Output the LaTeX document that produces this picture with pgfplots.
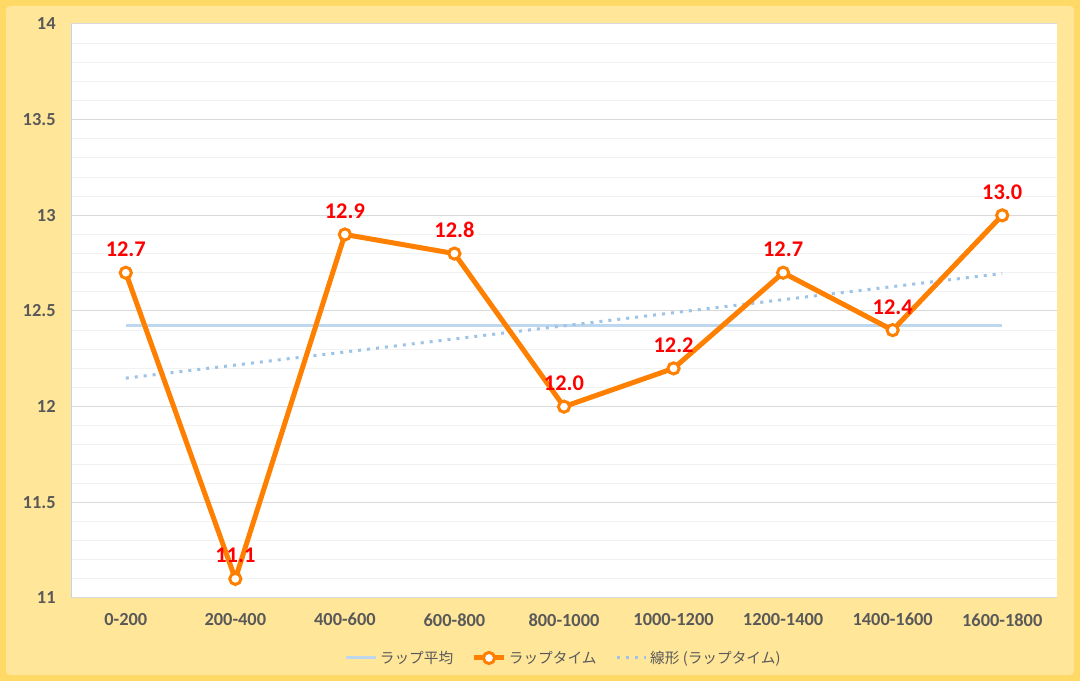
\documentclass[border=0pt]{standalone}
\usepackage{fontspec}
\setmainfont{Carlito}
\newfontfamily\jp{Noto Sans CJK JP}
\usepackage{pgfplots}
\pgfplotsset{compat=1.18}

\definecolor{frame}{HTML}{FFD966}
\definecolor{bg}{HTML}{FFE699}
\definecolor{lap}{HTML}{FF8000}
\definecolor{avg}{HTML}{BDD7EE}
\definecolor{trend}{HTML}{9DC3E6}
\definecolor{txt}{HTML}{595959}

\begin{document}
\begin{tikzpicture}[x=0.75pt,y=0.75pt]
\useasboundingbox (0,0) rectangle (1080,681);
\fill[frame] (0,0) rectangle (1080,681);
\fill[bg, rounded corners=3] (6,6) rectangle (1074,675);
\begin{axis}[
    scale only axis,
    anchor=south west,
    at={(53.25pt,62.25pt)},
    width=739.5pt, height=430.5pt,
    xmin=-0.5, xmax=8.5,
    ymin=11, ymax=14,
    xtick={0,...,8},
    xticklabels={0-200,200-400,400-600,600-800,800-1000,1000-1200,1200-1400,1400-1600,1600-1800},
    ytick={11,11.5,12,12.5,13,13.5,14},
    yticklabels={11,11.5,12,12.5,13,13.5,14},
    minor y tick num=4,
    ymajorgrids, yminorgrids,
    major grid style={draw=black!15, line width=0.75pt},
    minor grid style={draw=black!5, line width=0.75pt},
    major tick length=0pt, minor tick length=0pt,
    axis lines*=left,
    axis line style={-},
    x axis line style={draw=black!15, line width=0.75pt},
    y axis line style={draw=avg, line width=0.75pt},
    axis background/.style={fill=white},
    tick label style={font=\bfseries\fontsize{13.8}{13.8}\selectfont, text=txt},
    yticklabel style={xshift=-8pt},
    xticklabel style={yshift=-8pt},
    legend style={draw=none, fill=none, at={(0.5,-0.1045)}, anchor=center,
        font=\jp\fontsize{11}{11}\selectfont, text=txt,
        /tikz/every even column/.append style={column sep=12pt}},
    legend columns=3,
    legend image code/.code={\draw[mark repeat=2,mark phase=2,#1] plot coordinates {(0pt,0pt) (11pt,0pt) (22pt,0pt)};},
]
% ラップ平均
\addplot[avg, line width=2.25pt] coordinates {(0,12.4222) (8,12.4222)};
\addlegendentry{ラップ平均}
% 線形近似
\addplot[trend, line width=2.25pt, dash pattern=on 2.25pt off 4.5pt, forget plot]
    coordinates {(0,12.149) (8,12.696)};
% ラップタイム
\addplot[lap, line width=3.75pt, mark=*, mark size=4.2pt,
    mark options={fill=white, draw=lap, line width=2.25pt},
    nodes near coords={\pgfmathprintnumber[assume math mode=true,fixed,fixed zerofill,precision=1]{\pgfplotspointmeta}},
    every node near coord/.append style={anchor=center, yshift=17.5pt,
        text=red, font=\bfseries\fontsize{16.8}{16.8}\selectfont}]
    coordinates {(0,12.7) (1,11.1) (2,12.9) (3,12.8) (4,12.0) (5,12.2) (6,12.7) (7,12.4) (8,13.0)};
\addlegendentry{ラップタイム}
\addlegendimage{trend, line width=2.25pt, dash pattern=on 2.25pt off 4.5pt}
\addlegendentry{線形 (ラップタイム)}
\end{axis}
\end{tikzpicture}
\end{document}
